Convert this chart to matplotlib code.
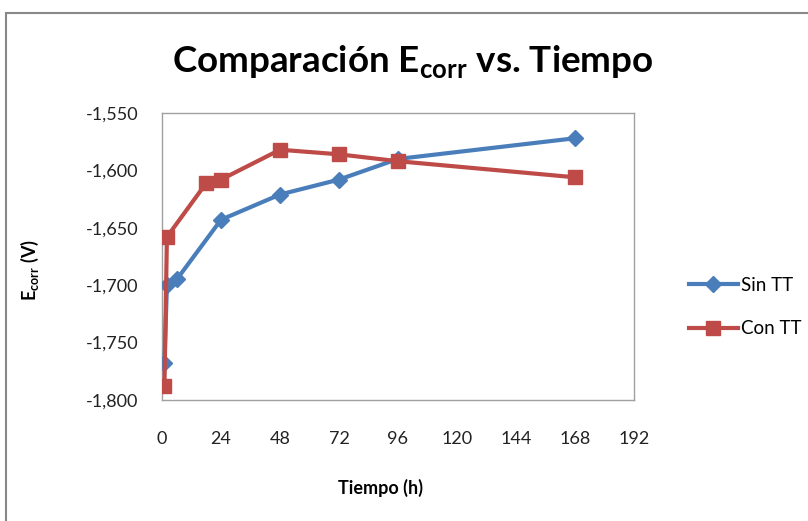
import matplotlib
matplotlib.use("Agg")
import matplotlib.pyplot as plt
from matplotlib.patches import Rectangle
from matplotlib.ticker import FuncFormatter, MultipleLocator
from matplotlib.lines import Line2D

# Data
t_sin = [1, 2, 6, 24, 48, 72, 96, 168]
e_sin = [-1768, -1700, -1695, -1643, -1621, -1608, -1590, -1572]
t_con = [1, 2, 18, 24, 48, 72, 96, 168]
e_con = [-1788, -1658, -1611, -1608, -1582, -1586, -1592, -1606]
x_ticks = [0, 24, 48, 72, 96, 120, 144, 168, 192]
series_names = ["Sin TT", "Con TT"]

plt.rcParams['font.family'] = ['Lato', 'DejaVu Sans']

fig = plt.figure(figsize=(8.08, 5.21), dpi=100)
ax = fig.add_axes([162/808, 1-400/521, (634-162)/808, (400-113)/521])

blue = '#4a7ebb'
red = '#be4b48'
ax.plot(t_sin, e_sin, color=blue, lw=3, marker='D', ms=8, label=series_names[0], zorder=3)
ax.plot(t_con, e_con, color=red, lw=3, marker='s', ms=10, label=series_names[1], zorder=4)

ax.set_xlim(0, 192)
ax.set_ylim(-1800, -1550)
ax.set_xticks(x_ticks)
ax.yaxis.set_major_locator(MultipleLocator(50))
ax.yaxis.set_major_formatter(FuncFormatter(lambda v, p: f"{int(v):,}"))
ax.tick_params(length=0, labelsize=13, colors='#222222')
ax.tick_params(axis='x', pad=22)
ax.tick_params(axis='y', pad=17)
for s in ax.spines.values():
    s.set_color('#a0a0a0')
    s.set_linewidth(1)

fig.text(413/808, 1 - 62/521, r"Comparación E$_{\mathregular{corr}}$ vs. Tiempo",
         ha='center', va='center', fontsize=26.5, fontweight='bold')
fig.text(380/808, 1 - 488/521, "Tiempo (h)", ha='center', va='center', fontsize=13, fontweight='bold')
fig.text(30/808, 1 - 270/521, r"E$_{\mathregular{corr}}$ (V)", ha='center', va='center',
         fontsize=13, fontweight='bold', rotation=90)

leg = fig.legend(handles=[
    Line2D([], [], color=blue, lw=3, marker='D', ms=8),
    Line2D([], [], color=red, lw=3, marker='s', ms=10)],
    labels=series_names, loc='center left', bbox_to_anchor=(672/808, 1 - 307/521),
    frameon=False, fontsize=13.5, handlelength=2.6, labelspacing=1.4, handletextpad=0.2)

fig.patches.append(Rectangle((6/808, -0.1), 1.2, 1 - 13/521 + 0.1, transform=fig.transFigure,
                             fill=False, edgecolor='#888888', lw=1.5))

fig.savefig("out.png", dpi=100)
